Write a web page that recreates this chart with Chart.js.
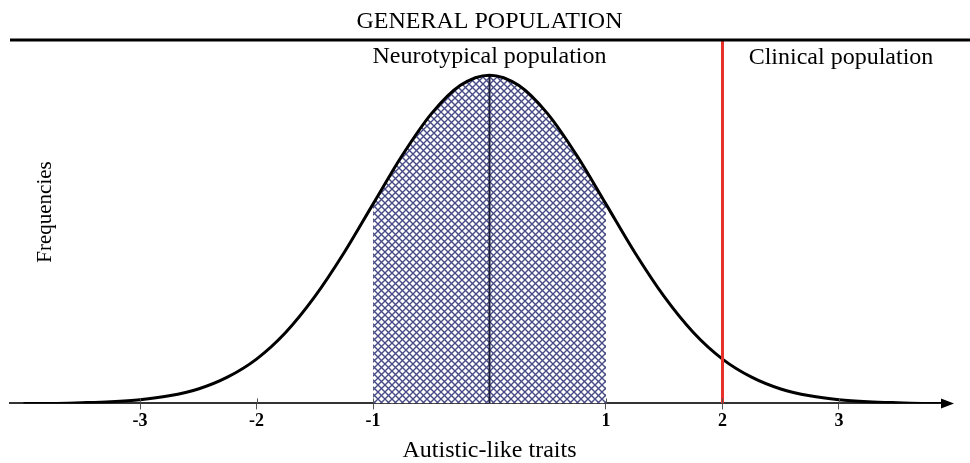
<!DOCTYPE html>
<html>
<head>
<meta charset="utf-8">
<script src="https://cdn.jsdelivr.net/npm/chart.js@4/dist/chart.umd.min.js"></script>
<style>
  html, body { margin: 0; padding: 0; background: #fff; }
  canvas { display: block; }
</style>
</head>
<body>
<canvas id="chart" width="970" height="463"></canvas>
<script>
// ---------------- DATA ----------------
const traitX = [-4, -3.75, -3.5, -3.25, -3, -2.75, -2.5, -2.25, -2, -1.75, -1.5, -1.25, -1, -0.75, -0.5, -0.25,
                0, 0.25, 0.5, 0.75, 1, 1.25, 1.5, 1.75, 2, 2.25, 2.5, 2.75, 3, 3.25, 3.5, 3.75, 4];
const frequency = [0.0, 0.0, 0.002, 0.005, 0.011, 0.023, 0.044, 0.08, 0.135, 0.216, 0.325, 0.458, 0.607, 0.755, 0.882, 0.969,
                   1.0, 0.969, 0.882, 0.755, 0.607, 0.458, 0.325, 0.216, 0.135, 0.08, 0.044, 0.023, 0.011, 0.005, 0.002, 0.0, 0.0];
const tickValues = [-3, -2, -1, 1, 2, 3];
const neurotypicalRange = [-1, 1];
const clinicalCutoff = 2;
const meanValue = 0;

const titleText = "GENERAL POPULATION";
const neuroLabel = "Neurotypical population";
const clinicalLabel = "Clinical population";
const xTitle = "Autistic-like traits";
const yTitle = "Frequencies";

const serif = "'Liberation Serif', 'DejaVu Serif', serif";

// ---------------- HATCH PATTERN ----------------
function makeHatch() {
    const c = document.createElement("canvas");
    c.width = 7;
    c.height = 7;
    const g = c.getContext("2d");
    g.fillStyle = "#ffffff";
    g.fillRect(0, 0, 7, 7);
    g.strokeStyle = "#474b86";
    g.lineWidth = 1.4;
    g.beginPath();
    g.moveTo(-1, -1); g.lineTo(8, 8);
    g.moveTo(-1, 8); g.lineTo(8, -1);
    g.stroke();
    return g.createPattern(c, "repeat");
}

const curvePoints = traitX.map((x, i) => ({ x: x, y: frequency[i] }));
const hatchPoints = curvePoints.filter(p => p.x >= neurotypicalRange[0] && p.x <= neurotypicalRange[1]);
const peak = frequency[traitX.indexOf(meanValue)];

// ---------------- DECORATION PLUGIN ----------------
const decor = {
    id: "decor",
    afterDraw(chart) {
        const ctx = chart.ctx;
        const area = chart.chartArea;
        const xs = chart.scales.x;
        ctx.save();

        // top line
        ctx.strokeStyle = "#000";
        ctx.lineWidth = 3;
        ctx.beginPath();
        ctx.moveTo(10, area.top);
        ctx.lineTo(970, area.top);
        ctx.stroke();

        // small tick stubs above the axis
        ctx.strokeStyle = "#555";
        ctx.lineWidth = 1;
        tickValues.forEach(v => {
            const px = Math.round(xs.getPixelForValue(v)) + 0.5;
            ctx.beginPath();
            ctx.moveTo(px, area.bottom - 5);
            ctx.lineTo(px, area.bottom);
            ctx.stroke();
        });

        // arrow head on x axis
        ctx.fillStyle = "#000";
        ctx.beginPath();
        ctx.moveTo(area.right + 9, area.bottom);
        ctx.lineTo(area.right - 4, area.bottom - 5);
        ctx.lineTo(area.right - 4, area.bottom + 5);
        ctx.closePath();
        ctx.fill();

        // texts
        ctx.fillStyle = "#000";
        ctx.textAlign = "center";
        ctx.textBaseline = "alphabetic";
        ctx.font = "24px " + serif;
        ctx.fillText(titleText, xs.getPixelForValue(meanValue), 28);
        ctx.fillText(neuroLabel, xs.getPixelForValue(meanValue), 63);
        ctx.fillText(clinicalLabel, 841, 64);
        ctx.fillText(xTitle, xs.getPixelForValue(meanValue), 457);

        ctx.translate(51, 212);
        ctx.rotate(-Math.PI / 2);
        ctx.font = "21px " + serif;
        ctx.fillText(yTitle, 0, 0);
        ctx.restore();
    }
};

// ---------------- CHART ----------------
new Chart(document.getElementById("chart"), {
    type: "line",
    data: {
        datasets: [
            {
                data: hatchPoints,
                borderWidth: 0,
                pointRadius: 0,
                fill: "origin",
                backgroundColor: makeHatch(),
                cubicInterpolationMode: "monotone",
                order: 3
            },
            {
                data: [{ x: meanValue, y: 0 }, { x: meanValue, y: peak }],
                borderColor: "#1b1d3a",
                borderWidth: 2,
                pointRadius: 0,
                fill: false,
                order: 2
            },
            {
                data: curvePoints,
                borderColor: "#000",
                borderWidth: 3,
                pointRadius: 0,
                fill: false,
                cubicInterpolationMode: "monotone",
                order: 1
            },
            {
                data: [{ x: clinicalCutoff, y: 0 }, { x: clinicalCutoff, y: 1.12 }],
                borderColor: "#e8302a",
                borderWidth: 3,
                pointRadius: 0,
                fill: false,
                order: 0
            }
        ]
    },
    options: {
        responsive: false,
        animation: false,
        devicePixelRatio: 1,
        layout: { padding: { top: 40, left: 10, right: 25, bottom: 30 } },
        plugins: { legend: { display: false }, tooltip: { enabled: false } },
        scales: {
            x: {
                type: "linear",
                min: -4.116,
                max: 3.91,
                afterBuildTicks(axis) {
                    axis.ticks = tickValues.map(v => ({ value: v }));
                },
                ticks: {
                    color: "#000",
                    padding: 1,
                    font: { family: serif, size: 18, weight: "bold", lineHeight: 1.2 },
                    maxRotation: 0,
                    autoSkip: false
                },
                grid: {
                    drawOnChartArea: false,
                    tickLength: 6,
                    color: "#555",
                    lineWidth: 1
                },
                border: { color: "#333", width: 2 },
                title: { display: false }
            },
            y: {
                display: false,
                min: 0,
                max: 1.107
            }
        }
    },
    plugins: [decor]
});
</script>
</body>
</html>
